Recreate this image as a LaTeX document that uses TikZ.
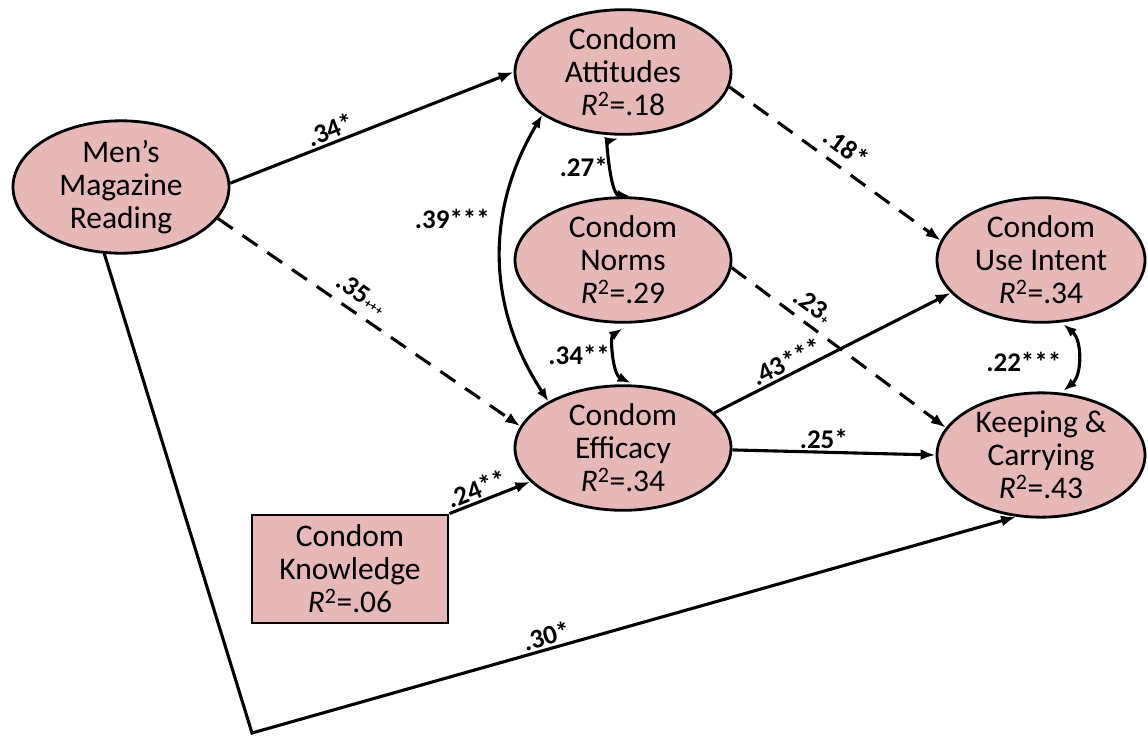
\documentclass[tikz,border=0pt]{standalone}
\usepackage{fontspec}
\setmainfont{Carlito}
\usetikzlibrary{shapes.geometric,arrows.meta}
\definecolor{boxfill}{HTML}{E6B8B7}
\newcommand{\rsq}[1]{\textit{R}\textsuperscript{2}=#1}
\newcommand{\tinyplus}[1]{{\fontsize{13}{13}\selectfont #1}}

\begin{document}
\begin{tikzpicture}[x=1pt,y=-1pt,
  latent/.style={ellipse, draw, line width=2.8pt, fill=boxfill,
    minimum width=216pt, minimum height=116pt, inner sep=0pt,
    align=center, font=\fontsize{31.5}{33}\selectfont},
  observed/.style={rectangle, draw, line width=2.8pt, fill=boxfill,
    minimum width=196pt, minimum height=108pt, inner sep=0pt,
    align=center, font=\fontsize{31.5}{33}\selectfont},
  path/.style={line width=3.1pt, -{Latex[length=15pt,width=11pt]}},
  dpath/.style={path, dash pattern=on 18pt off 12pt},
  both/.style={line width=3.1pt, {Latex[length=13pt,width=10pt]}-{Latex[length=13pt,width=10pt]}},
  lab/.style={font=\bfseries\fontsize{27}{27}\selectfont, inner sep=2pt}
]
\useasboundingbox (0,0) rectangle (1148,736);

% constructs
\node[latent] (men) at (121,187) {Men’s\\Magazine\\Reading};
\node[latent] (att) at (623,72)  {Condom\\Attitudes\\\rsq{.18}};
\node[latent] (nrm) at (623,260) {Condom\\Norms\\\rsq{.29}};
\node[latent] (eff) at (623,448) {Condom\\Efficacy\\\rsq{.34}};
\node[latent, minimum width=208pt] (ui)  at (1041,260) {Condom\\Use Intent\\\rsq{.34}};
\node[latent, minimum width=208pt] (kc)  at (1041,455) {Keeping \&\\Carrying\\\rsq{.43}};
\node[observed] (kn) at (350,569) {Condom\\Knowledge\\\rsq{.06}};
\coordinate (corner) at (252,733);

% directed paths
\draw[path] (men.2) -- node[lab, sloped, above, pos=.37] {.34*} (att.west);
\draw[dpath] (men.-18) -- node[lab, sloped, above=7pt, pos=.44] {.35\tinyplus{+++}} (eff.168);
\draw[path] (men.-104) -- (corner) -- node[lab, sloped, above, pos=.39] {.30*} (kc.-112);
\draw[dpath] (att.-8) -- node[lab, sloped, above=7pt, pos=.5] {.18*} (ui.169);
\draw[dpath] (nrm.-4) -- node[lab, sloped, above=6pt, pos=.33] {.23\tinyplus{+}} (kc.164);
\draw[path] (eff.21) -- node[lab, sloped, above, pos=.33] {.43***} (ui.-160);
\draw[path] (eff.-1) -- node[lab, above, pos=.45] {.25*} (kc.west);
\draw[path] (kn.north east) -- node[lab, sloped, above, pos=.4] {.24**} (eff.-160);

% correlations
\draw[both] (att.-152) to[bend right=32] node[lab, pos=.36, left=10pt] {.39***} (eff.148);
\draw[both, shorten <=12pt, shorten >=4pt] (att.-84) to[bend right=80] node[lab, left=3pt] {.27*} (nrm.80);
\draw[both, shorten <=9pt, shorten >=4pt] (nrm.-84) to[bend right=60] node[lab, left=3pt] {.34**} (eff.80);
\draw[both, shorten <=3pt, shorten >=3pt] (ui.-72) to[bend left=50] node[lab, pos=.55, left=12pt] {.22***} (kc.72);
\end{tikzpicture}
\end{document}
